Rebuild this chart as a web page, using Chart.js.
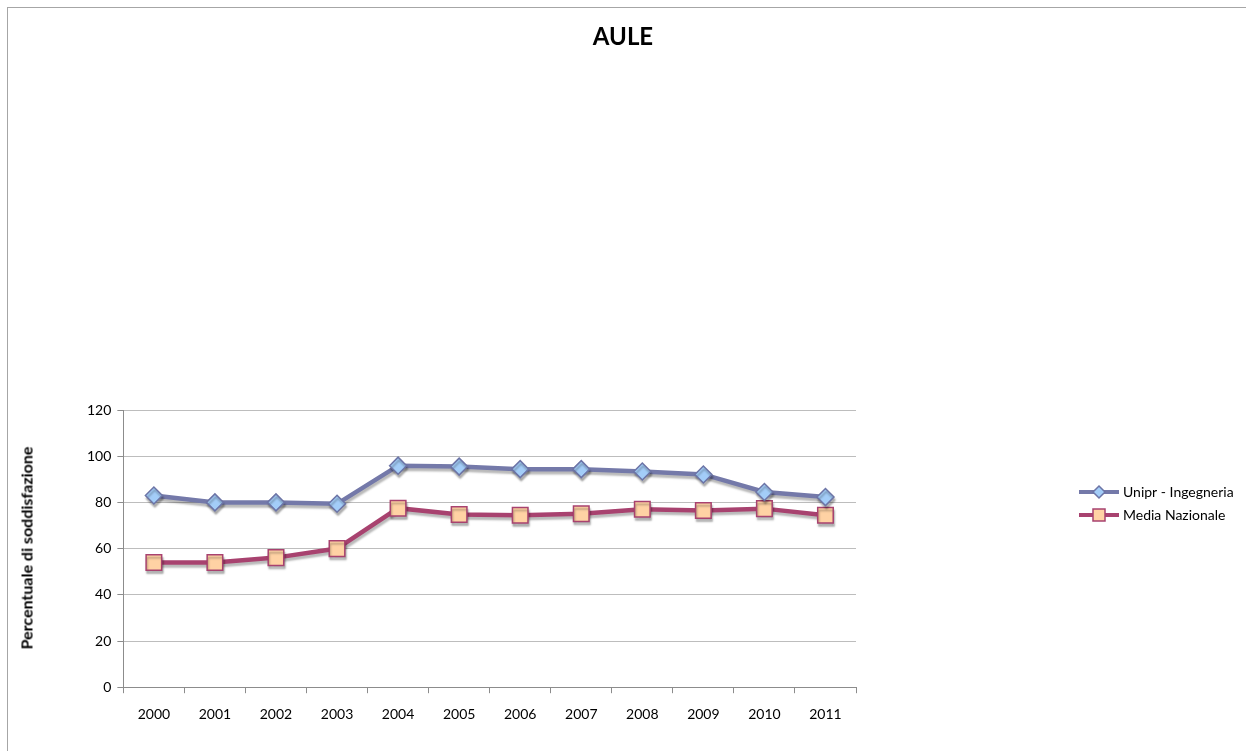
<!DOCTYPE html>
<html>
<head>
<meta charset="utf-8">
<script src="https://cdn.jsdelivr.net/npm/chart.js@4/dist/chart.umd.min.js"></script>
<style>
  body { margin: 0; background: #fff; overflow: hidden; font-family: Lato, 'Open Sans', sans-serif; }
  #frame {
    position: absolute; left: 7px; top: 7px; width: 1246px; height: 751px;
    border-left: 1px solid #a6a6a6; border-top: 1px solid #a6a6a6;
  }
  #wrap { position: absolute; left: 0; top: 0; width: 1246px; height: 751px; }
  #title {
    position: absolute; left: 0; width: 1246px; top: 21px; text-align: center;
    font-size: 24px; font-weight: bold; color: #000;
  }
  #ytitle {
    position: absolute; left: 26px; top: 548px; white-space: nowrap;
    transform: translate(-50%, -50%) rotate(-90deg);
    font-size: 16px; font-weight: bold; color: #000;
  }
</style>
</head>
<body>
<div id="frame"></div>
<div id="wrap"><canvas id="chart"></canvas></div>
<div id="title">AULE</div>
<div id="ytitle">Percentuale di soddisfazione</div>
<script>
const years = ["2000", "2001", "2002", "2003", "2004", "2005", "2006", "2007", "2008", "2009", "2010", "2011"];
const unipr = [83, 80, 80, 79.4, 95.9, 95.5, 94.4, 94.4, 93.4, 92.1, 84.5, 82.3];
const media = [54, 54, 56.1, 60, 77.5, 74.8, 74.4, 75.1, 77, 76.5, 77.3, 74.4];
const seriesNames = ["Unipr - Ingegneria", "Media Nazionale"];

const FONT = "Lato, 'Open Sans', sans-serif";

// gray drop shadow under the lines, like the office chart
const shadowPlugin = {
  id: "shadow",
  beforeDatasetDraw(chart) {
    const ctx = chart.ctx;
    ctx.save();
    ctx.shadowColor = "rgba(0,0,0,0.28)";
    ctx.shadowOffsetX = 1;
    ctx.shadowOffsetY = 3;
    ctx.shadowBlur = 2;
  },
  afterDatasetDraw(chart) {
    chart.ctx.restore();
  }
};

// legend drawn on the right, far from the plot area
const sideLegend = {
  id: "sideLegend",
  afterDraw(chart) {
    const ctx = chart.ctx;
    const x0 = 1079, rows = [492, 515];
    chart.data.datasets.forEach((ds, i) => {
      const y = rows[i];
      ctx.save();
      ctx.strokeStyle = ds.borderColor;
      ctx.lineWidth = 4;
      ctx.beginPath();
      ctx.moveTo(x0, y);
      ctx.lineTo(x0 + 40, y);
      ctx.stroke();
      ctx.fillStyle = ds.pointBackgroundColor;
      ctx.strokeStyle = ds.pointBorderColor;
      ctx.lineWidth = 1.5;
      ctx.beginPath();
      if (i === 0) {
        ctx.moveTo(x0 + 20, y - 6); ctx.lineTo(x0 + 26, y);
        ctx.lineTo(x0 + 20, y + 6); ctx.lineTo(x0 + 14, y);
        ctx.closePath();
      } else {
        ctx.rect(x0 + 14, y - 6, 12, 12);
      }
      ctx.fill();
      ctx.stroke();
      ctx.fillStyle = "#000";
      ctx.font = "14px " + FONT;
      ctx.textBaseline = "middle";
      ctx.fillText(seriesNames[i], x0 + 44, y);
      ctx.restore();
    });
  }
};

new Chart(document.getElementById("chart"), {
  type: "line",
  data: {
    labels: years,
    datasets: [
      {
        label: seriesNames[0],
        data: unipr,
        borderColor: "#7479a9",
        borderWidth: 4.5,
        pointStyle: "rectRot",
        pointRadius: 8.5,
        pointHoverRadius: 8.5,
        pointBackgroundColor: "#a3cdf8",
        pointBorderColor: "#6c74a6",
        pointBorderWidth: 1.5,
        tension: 0
      },
      {
        label: seriesNames[1],
        data: media,
        borderColor: "#a8426f",
        borderWidth: 4.5,
        pointStyle: "rect",
        pointRadius: 11,
        pointHoverRadius: 11,
        pointBackgroundColor: "#ffd2a4",
        pointBorderColor: "#a8426f",
        pointBorderWidth: 1.5,
        tension: 0
      }
    ]
  },
  options: {
    responsive: true,
    maintainAspectRatio: false,
    animation: false,
    layout: { padding: { top: 410, left: 81, right: 390, bottom: 15 } },
    plugins: {
      legend: { display: false },
      tooltip: { enabled: false }
    },
    scales: {
      x: {
        offset: true,
        grid: {
          offset: true,
          drawOnChartArea: false,
          color: "#8c8c8c",
          tickLength: 6
        },
        border: { color: "#8c8c8c" },
        ticks: { color: "#000", font: { family: FONT, size: 14 }, padding: 13 }
      },
      y: {
        min: 0,
        max: 120,
        ticks: { stepSize: 20, color: "#000", font: { family: FONT, size: 14 }, padding: 6 },
        grid: { color: "#bdbdbd", tickLength: 6, tickColor: "#8c8c8c" },
        border: { color: "#8c8c8c" }
      }
    }
  },
  plugins: [shadowPlugin, sideLegend]
});
</script>
</body>
</html>
